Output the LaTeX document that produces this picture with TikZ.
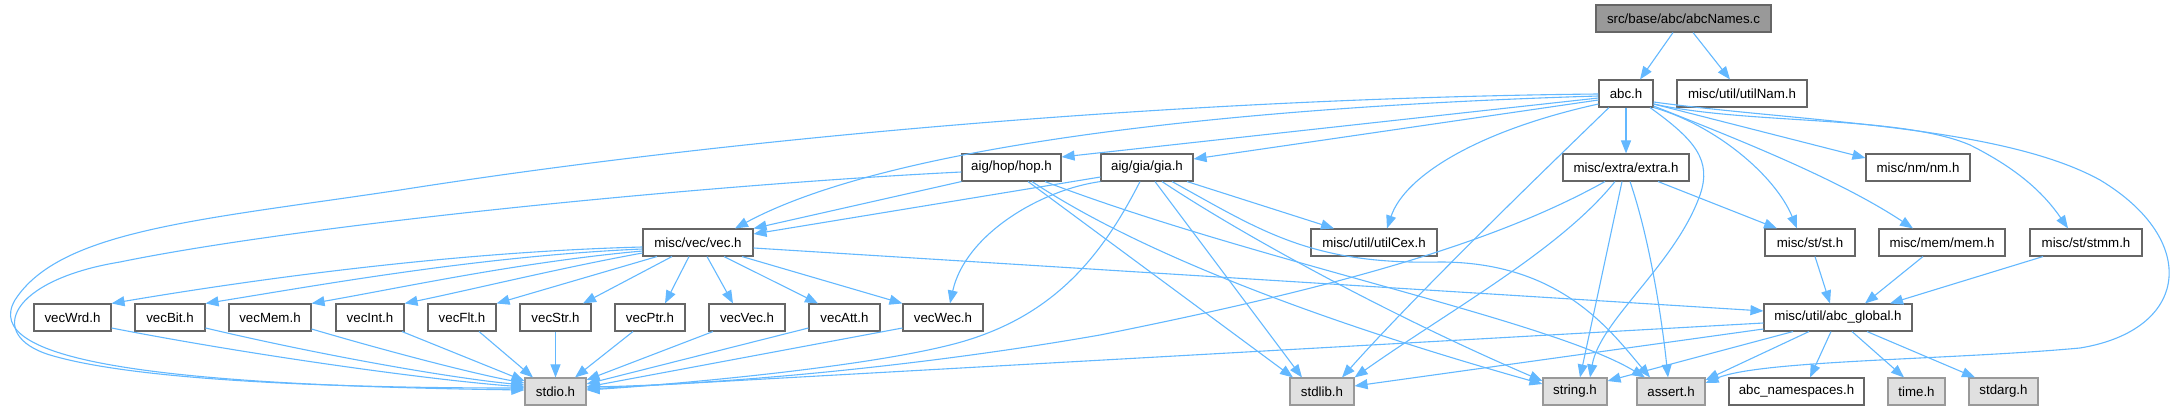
\documentclass[tikz,border=0pt]{standalone}
\usepackage{fontspec}
\setmainfont{Liberation Sans}
\usetikzlibrary{arrows.meta}
\definecolor{edgeblue}{HTML}{63B8FF}
\definecolor{bordergray}{HTML}{666666}
\definecolor{sysborder}{HTML}{999999}
\definecolor{sysfill}{HTML}{E0E0E0}
\definecolor{rootfill}{HTML}{999999}
\begin{document}
\begin{tikzpicture}[x=1pt,y=-1pt,
  box/.style={draw=bordergray, fill=white, line width=1.1pt, minimum height=27pt, inner sep=0pt, font=\fontsize{13.3}{16}\selectfont, text=black},
  sys/.style={box, draw=sysborder, fill=sysfill},
  rootbox/.style={box, draw=bordergray, fill=rootfill},
  dep/.style={draw=edgeblue, line width=1.1pt, -{Triangle[length=13pt,width=10pt]}}]
\path[use as bounding box] (0,0) rectangle (2179,411);
% nodes
\node[rootbox, minimum width=175pt] (root) at (1683.5,18.5) {src/base/abc/abcNames.c};
\node[box, minimum width=54pt] (abc) at (1626,93.5) {abc.h};
\node[box, minimum width=130pt] (utilNam) at (1742,93.5) {misc/util/utilNam.h};
\node[box, minimum width=99pt] (hop) at (1011.5,167.5) {aig/hop/hop.h};
\node[box, minimum width=92pt] (gia) at (1147,167.5) {aig/gia/gia.h};
\node[box, minimum width=126pt] (extra) at (1626,167.5) {misc/extra/extra.h};
\node[box, minimum width=104pt] (nm) at (1918,167.5) {misc/nm/nm.h};
\node[box, minimum width=110pt] (vec) at (698,242.5) {misc/vec/vec.h};
\node[box, minimum width=126pt] (utilCex) at (1374,242.5) {misc/util/utilCex.h};
\node[box, minimum width=90pt] (st) at (1810,242.5) {misc/st/st.h};
\node[box, minimum width=126pt] (mem) at (1942,242.5) {misc/mem/mem.h};
\node[box, minimum width=112pt] (stmm) at (2086,242.5) {misc/st/stmm.h};
\node[box, minimum width=77pt] (vecWrd) at (72.5,317.5) {vecWrd.h};
\node[box, minimum width=70pt] (vecBit) at (170,317.5) {vecBit.h};
\node[box, minimum width=82pt] (vecMem) at (270,317.5) {vecMem.h};
\node[box, minimum width=68pt] (vecInt) at (370,317.5) {vecInt.h};
\node[box, minimum width=68pt] (vecFlt) at (462,317.5) {vecFlt.h};
\node[box, minimum width=71pt] (vecStr) at (555.5,317.5) {vecStr.h};
\node[box, minimum width=70pt] (vecPtr) at (650,317.5) {vecPtr.h};
\node[box, minimum width=76pt] (vecVec) at (747,317.5) {vecVec.h};
\node[box, minimum width=71pt] (vecAtt) at (844.5,317.5) {vecAtt.h};
\node[box, minimum width=80pt] (vecWec) at (943,317.5) {vecWec.h};
\node[box, minimum width=148pt] (abcglobal) at (1838,317.5) {misc/util/abc\_global.h};
\node[sys, minimum width=61pt] (stdio) at (555.5,391.5) {stdio.h};
\node[sys, minimum width=64pt] (stdlib) at (1322,391.5) {stdlib.h};
\node[sys, minimum width=64pt] (string) at (1575,391.5) {string.h};
\node[sys, minimum width=68pt] (assert) at (1671,391.5) {assert.h};
\node[box, minimum width=135pt] (abcns) at (1796.5,391.5) {abc\_namespaces.h};
\node[sys, minimum width=57pt] (time) at (1916.5,391.5) {time.h};
\node[sys, minimum width=69pt] (stdarg) at (2003.5,391.5) {stdarg.h};
% root
\draw[dep] (root.south -| 1673,0) -- (abc.north -| 1640,0);
\draw[dep] (root.south -| 1693,0) -- (utilNam.north -| 1730,0);
% abc.h
\draw[dep] (abc) -- (extra);
\draw[dep] (abc.east |- 0,104) -- (nm.west |- 0,158);
\draw[dep] (abc.south east) .. controls (1715,125) and (1775,175) .. (st.north -| 1797,0);
\draw[dep] (abc.east |- 0,106) .. controls (1740,140) and (1840,180) .. (mem.north -| 1913,0);
\draw[dep] (abc.east |- 0,104) .. controls (1750,125) and (1900,115) .. (1970,145) .. controls (2020,170) and (2045,195) .. (stmm.north -| 2068,0);
\draw[dep] (abc.east |- 0,102) .. controls (1800,122) and (2000,125) .. (2100,180) .. controls (2200,240) and (2190,330) .. (2080,348) .. controls (1950,360) and (1760,360) .. (assert.east |- 0,383);
\draw[dep] (abc.south -| 1650,0) .. controls (1695,140) and (1712,160) .. (1700,195) .. controls (1675,265) and (1600,320) .. (string.north -| 1590,0);
\draw[dep] (abc.south -| 1609,0) .. controls (1560,155) and (1420,290) .. (stdlib.north -| 1342,0);
\draw[dep] (abc.west |- 0,104) .. controls (1480,130) and (1405,175) .. (utilCex.north -| 1387,0);
\draw[dep] (abc.west |- 0,100) -- (gia.east |- 0,159);
\draw[dep] (abc.west |- 0,98) -- (hop.east |- 0,157);
\draw[dep] (abc.west |- 0,96) .. controls (1200,108) and (880,150) .. (vec.north -| 735,0);
\draw[dep] (abc.west |- 0,94) .. controls (1200,98) and (750,135) .. (400,190) .. controls (200,220) and (60,230) .. (15,300) .. controls (-20,360) and (150,385) .. (stdio.west |- 0,390);
% hop.h
\draw[dep] (hop.west |- 0,172) .. controls (700,185) and (300,225) .. (120,262) .. controls (10,280) and (-15,335) .. (50,355) .. controls (150,385) and (400,388) .. (stdio.west |- 0,388);
\draw[dep] (hop.south west) -- (vec.north east);
\draw[dep] (hop.south -| 1028,0) -- (stdlib.north -| 1293,0);
\draw[dep] (hop.south -| 1032,0) .. controls (1150,260) and (1350,330) .. (string.west |- 0,384);
\draw[dep] (hop.south -| 1045,0) .. controls (1250,260) and (1550,320) .. (assert.north -| 1645,0);
% gia.h
\draw[dep] (gia.west |- 0,177) -- (vec.east |- 0,234);
\draw[dep] (gia.south west) .. controls (1040,190) and (965,235) .. (vecWec.north -| 950,0);
\draw[dep] (gia.south -| 1140,0) .. controls (1100,260) and (1050,320) .. (950,345) .. controls (850,370) and (650,386) .. (stdio.east |- 0,390);
\draw[dep] (gia.south -| 1187,0) -- (utilCex.north -| 1334,0);
\draw[dep] (gia.south -| 1155,0) -- (stdlib.north -| 1302,0);
\draw[dep] (gia.south -| 1162,0) .. controls (1250,240) and (1400,320) .. (string.west |- 0,381);
\draw[dep] (gia.south -| 1172,0) .. controls (1260,230) and (1310,265) .. (1440,262) .. controls (1560,262) and (1610,330) .. (assert.north -| 1650,0);
% extra.h
\draw[dep] (extra.south -| 1605,0) .. controls (1500,240) and (1350,285) .. (1100,335) .. controls (900,370) and (700,385) .. (stdio.east |- 0,387);
\draw[dep] (extra.south -| 1615,0) .. controls (1560,250) and (1450,310) .. (stdlib.north east);
\draw[dep] (extra.south -| 1622,0) -- (string.north -| 1580,0);
\draw[dep] (extra.south -| 1630,0) .. controls (1650,240) and (1662,320) .. (assert.north -| 1668,0);
\draw[dep] (extra.south -| 1658,0) -- (st.north -| 1777,0);
% st, mem, stmm
\draw[dep] (st.south -| 1815,0) -- (abcglobal.north -| 1830,0);
\draw[dep] (mem.south -| 1923,0) -- (abcglobal.north -| 1865,0);
\draw[dep] (stmm.south -| 2043,0) -- (abcglobal.north -| 1890,0);
% vec.h
\draw[dep] (vec.east |- 0,248) -- (abcglobal.west |- 0,311);
\draw[dep] (vec.west |- 0,247) .. controls (450,252) and (250,280) .. (vecWrd.north east);
\draw[dep] (vec.west |- 0,249) .. controls (480,256) and (320,285) .. (vecBit.north east);
\draw[dep] (vec.west |- 0,251) .. controls (520,262) and (400,288) .. (vecMem.north east);
\draw[dep] (vec.west |- 0,253) .. controls (560,268) and (470,290) .. (vecInt.north east);
\draw[dep] (vec.south -| 657,0) -- (vecFlt.north east);
\draw[dep] (vec.south -| 672,0) -- (vecStr.north -| 583,0);
\draw[dep] (vec.south -| 689,0) -- (vecPtr.north -| 665,0);
\draw[dep] (vec.south -| 707,0) -- (vecVec.north -| 733,0);
\draw[dep] (vec.south -| 724,0) -- (vecAtt.north -| 818,0);
\draw[dep] (vec.south -| 742,0) -- (vecWec.north west);
% vecX -> stdio
\draw[dep] (vecWrd.east |- 0,328) .. controls (250,355) and (430,380) .. (stdio.west |- 0,387);
\draw[dep] (vecBit.east |- 0,328) .. controls (320,355) and (450,378) .. (stdio.west |- 0,385);
\draw[dep] (vecMem.east |- 0,329) .. controls (400,355) and (480,375) .. (stdio.west |- 0,383);
\draw[dep] (vecInt.south -| 402,0) -- (stdio.west |- 0,381);
\draw[dep] (vecFlt.south -| 479,0) -- (stdio.north -| 533,0);
\draw[dep] (vecStr) -- (stdio);
\draw[dep] (vecPtr.south -| 633,0) -- (stdio.north -| 575,0);
\draw[dep] (vecVec.south -| 713,0) -- (stdio.east |- 0,380);
\draw[dep] (vecAtt.west |- 0,328) -- (stdio.east |- 0,384);
\draw[dep] (vecWec.west |- 0,328) -- (stdio.east |- 0,387);
% abc_global
\draw[dep] (abcglobal.west |- 0,323) -- (stdio.east |- 0,389);
\draw[dep] (abcglobal.west |- 0,329) -- (stdlib.east |- 0,386);
\draw[dep] (abcglobal.south -| 1793,0) -- (string.east |- 0,381);
\draw[dep] (abcglobal.south -| 1809,0) -- (assert.east |- 0,380);
\draw[dep] (abcglobal.south -| 1831,0) -- (abcns.north -| 1810,0);
\draw[dep] (abcglobal.south -| 1852,0) -- (time.north -| 1904,0);
\draw[dep] (abcglobal.south -| 1867,0) -- (stdarg.north -| 1975,0);
\end{tikzpicture}
\end{document}
